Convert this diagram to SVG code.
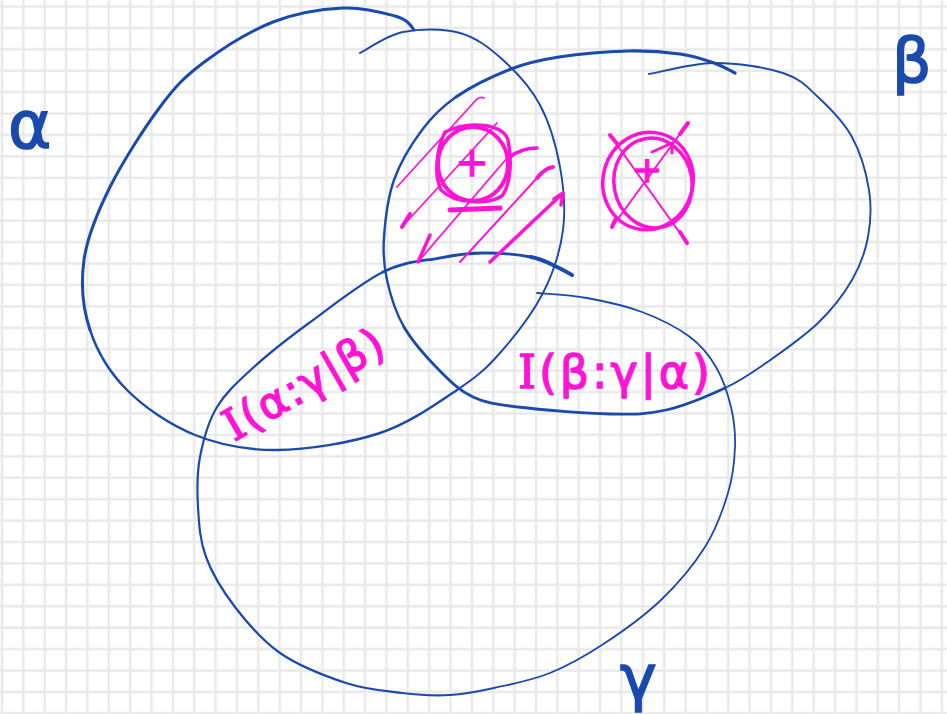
<svg xmlns="http://www.w3.org/2000/svg" width="947" height="714" viewBox="0 0 947 714">
<defs>
<pattern id="grid" patternUnits="userSpaceOnUse" x="0" y="0" width="21.36" height="21.42">
<line x1="2" y1="0" x2="2" y2="21.42" stroke="#e9e9e9" stroke-width="2.5"/>
<line x1="0" y1="6.5" x2="21.36" y2="6.5" stroke="#e9e9e9" stroke-width="2.5"/>
</pattern>
<style>
.set{fill:none;stroke:#1b4aad;stroke-linecap:round;stroke-linejoin:round}
.pk{fill:none;stroke:#ff14d6;stroke-linecap:round;stroke-linejoin:round}
.gl{font-family:"DejaVu Sans",sans-serif;fill:#1b4aad;stroke:#1b4aad;stroke-width:1.6}
.ml{font-family:"DejaVu Sans",sans-serif;fill:#ff14d6;stroke:#ff14d6;stroke-width:1.4}
.sf{font-family:"DejaVu Serif",serif}
</style>
</defs>
<rect width="947" height="714" fill="#ffffff"/>
<rect width="947" height="714" fill="url(#grid)"/>

<g id="set-alpha">
<path class="set" stroke-width="1.9" d="M360,53 C367.2,49.5 386.3,35.3 403,32 C419.7,28.7 443.3,28.3 460,33 C476.7,37.7 489.7,48 503,60 C516.3,72 530.5,87.2 540,105 C549.5,122.8 556.2,146.2 560,167 C563.8,187.8 565.8,209 563,230 C560.2,251 553.5,272.5 543,293 C532.5,313.5 514.3,336.8 500,353 C485.7,369.2 477,376.7 457,390"/>
<path class="set" stroke-width="2.4" d="M457,390 C437,403.3 410,423 380,433 C350,443 307.8,449.7 277,450 C246.2,450.3 220,445 195,435 C170,425 144.5,407.5 127,390 C109.5,372.5 97.2,351.7 90,330"/>
<path class="set" stroke-width="3" d="M90,330 C82.8,308.3 80.7,283.8 84,260 C87.3,236.2 97.3,212.5 110,187 C122.7,161.5 144.5,127.7 160,107 C175.5,86.3 184.2,77.2 203,63 C221.8,48.8 249.7,31.2 273,22 C296.3,12.8 322.7,9 343,8 C363.3,7 383.3,12.7 395,16 C406.7,19.3 410,24 414,30"/>
</g>

<g id="set-beta">
<path class="set" stroke-width="1.9" d="M649,74 C659.8,72.2 691.7,63.2 714,63 C736.3,62.8 765.7,67.3 783,73 C800.3,78.7 806.5,86.3 818,97 C829.5,107.7 843.5,121.5 852,137 C860.5,152.5 866.3,173.3 869,190 C871.7,206.7 870.8,222 868,237 C865.2,252 860.3,265.7 852,280 C843.7,294.3 832.3,309.2 818,323 C803.7,336.8 781.5,352.2 766,363 C750.5,373.8 741.7,380.2 725,388"/>
<path class="set" stroke-width="2.8" d="M725,388 C708.3,395.8 685.2,405.7 666,410 C646.8,414.3 634.7,414.5 610,414 C585.3,413.5 540.8,409.8 518,407 C495.2,404.2 486.2,403.2 473,397 C459.8,390.8 450.5,381.7 439,370 C427.5,358.3 412.7,342 404,327"/>
<path class="set" stroke-width="2.4" d="M404,327 C395.3,312 390.3,295 387,280 C383.7,265 382.8,253.7 384,237 C385.2,220.3 387.7,197.8 394,180 C400.3,162.2 411.7,143.8 422,130 C432.3,116.2 441.2,107.2 456,97"/>
<path class="set" stroke-width="3.2" d="M456,97 C470.8,86.8 493.8,75.7 511,69 C528.2,62.3 539.5,60 559,57 C578.5,54 607.8,51.5 628,51 C648.2,50.5 665.7,52 680,54 C694.3,56 704.8,59.8 714,63 C723.2,66.2 731.5,71.3 735,73"/>
</g>

<g id="set-gamma">
<path class="set" stroke-width="1.8" d="M537,293 C545.3,293.8 569.5,294.8 587,298 C604.5,301.2 624.8,305.5 642,312 C659.2,318.5 677.7,327.8 690,337 C702.3,346.2 709.2,355.3 716,367 C722.8,378.7 727.8,393.7 731,407 C734.2,420.3 735.5,432.7 735,447 C734.5,461.3 733,476.3 728,493 C723,509.7 716.2,529.2 705,547 C693.8,564.8 677.7,584 661,600 C644.3,616 623.5,630.8 605,643 C586.5,655.2 568.5,665.5 550,673 C531.5,680.5 510.7,684.3 494,688 C477.3,691.7 465.3,694.2 450,695"/>
<path class="set" stroke-width="2.2" d="M450,695 C434.7,695.8 419.3,695 402,693 C384.7,691 366.3,689.7 346,683 C325.7,676.3 298.5,665.7 280,653 C261.5,640.3 247.3,623 235,607 C222.7,591 212.2,573.7 206,557 C199.8,540.3 199,523.7 198,507 C197,490.3 196.8,473.7 200,457 C203.2,440.3 208,422 217,407 C226,392 238.7,381 254,367 C269.3,353 287.5,338.8 309,323 C330.5,307.2 361.3,282.8 383,272"/>
<path class="set" stroke-width="2.8" d="M383,272 C404.7,261.2 422.3,261.2 439,258 C455.7,254.8 467.7,253.2 483,253 C498.3,252.8 518.7,254.7 531,257"/>
<path class="set" stroke-width="4" d="M531,257 C543.3,259.3 550.2,264 557,267 C563.8,270 569.5,273.7 572,275"/>
</g>

<g id="hatch">
<path class="pk" stroke-width="1.8" d="M397,187 L476,100 Q480,96 484,98"/>
<path class="pk" stroke-width="1.8" d="M402,227 L497,123"/>
<path class="pk" stroke-width="4" d="M402,227 L410,214"/>
<path class="pk" stroke-width="1.8" d="M418,262 L508,157 Q520,148 537,148"/>
<path class="pk" stroke-width="3.5" d="M430,235 L418,262"/>
<path class="pk" stroke-width="3.5" d="M510,157 Q522,148 537,148"/>
<path class="pk" stroke-width="2" d="M460,262 L537,178 Q545,168 553,167"/>
<path class="pk" stroke-width="4" d="M537,178 Q545,168 553,167"/>
<path class="pk" stroke-width="3.5" d="M490,262 L563,193 M554,199 L563,193 L561,205"/>
</g>

<g id="mark-left">
<ellipse class="pk" stroke-width="4" cx="473" cy="164" rx="35" ry="37"/>
<path class="pk" stroke-width="3.5" d="M445,132 C470,120 503,124 508,140 C512,160 511,184 502,196 C488,205 455,204 441,190 C434,175 436,150 445,132"/>
<path class="pk" stroke-width="5" d="M450,210 L500,208"/>
<text class="ml" x="472" y="176" font-size="40" text-anchor="middle">+</text>
</g>

<g id="mark-right">
<ellipse class="pk" stroke-width="3.5" cx="648" cy="181" rx="45" ry="49" transform="rotate(15 648 181)"/>
<ellipse class="pk" stroke-width="3.5" cx="653" cy="183" rx="39" ry="45" transform="rotate(-10 653 183)"/>
<path class="pk" stroke-width="2" d="M610,135 L687,243"/>
<path class="pk" stroke-width="4" d="M610,135 L618,145 M680,232 L687,243"/>
<path class="pk" stroke-width="2" d="M688,123 L612,227"/>
<path class="pk" stroke-width="4" d="M688,123 L680,134 M615,220 L612,227"/>
<path class="pk" stroke-width="3" d="M652,152 L672,143 L672,153"/>
<text class="ml" x="647" y="182" font-size="36" text-anchor="middle">+</text>
</g>

<g id="labels">
<text class="gl" x="8" y="148" font-size="66">α</text>
<text class="gl" x="892" y="82" font-size="62">β</text>
<text class="gl" x="620" y="699" font-size="62">γ</text>
<text class="ml" font-size="44" textLength="178" lengthAdjust="spacing" transform="translate(234,442) rotate(-30)"><tspan class="sf">I</tspan>(α:γ|β)</text>
<text class="ml" x="518" y="388" font-size="46" textLength="192" lengthAdjust="spacing"><tspan class="sf">I</tspan>(β:γ|α)</text>
</g>
</svg>
